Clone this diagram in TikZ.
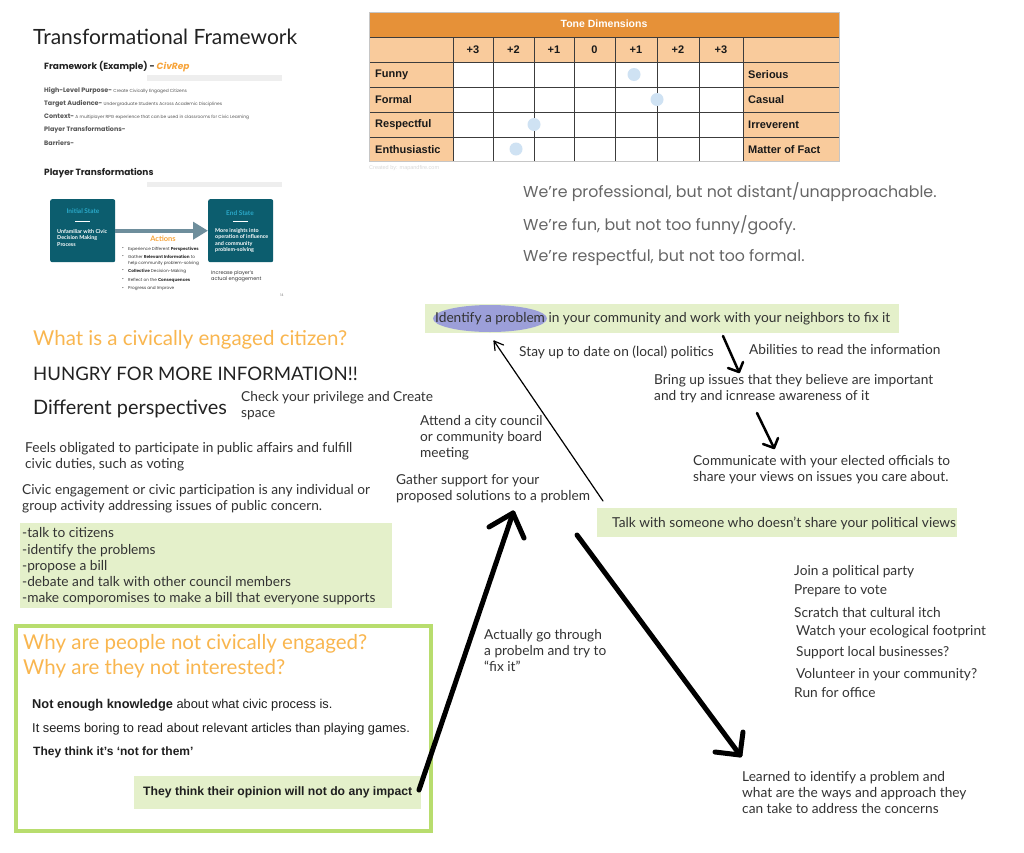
\documentclass[tikz,border=0pt]{standalone}
\usepackage{fontspec}
\setmainfont{Lato}
\newfontfamily\pop{Poppins}
\newfontfamily\ari{Liberation Sans}
\usetikzlibrary{calc,arrows.meta}
\definecolor{ttl}{HTML}{222222}
\definecolor{txt}{HTML}{333333}
\definecolor{qorange}{HTML}{F9B64F}
\definecolor{gfill}{HTML}{E4F0CA}
\definecolor{gline}{HTML}{B8DD6E}
\definecolor{lav}{HTML}{9C9FD9}
\definecolor{tealbg}{HTML}{0C5D6E}
\definecolor{tealtx}{HTML}{2AA9C9}
\definecolor{sarrow}{HTML}{6E8E9C}
\definecolor{civ}{HTML}{F7A43A}
\definecolor{sbar}{HTML}{EEEEEE}
\definecolor{sgray}{HTML}{555555}
\definecolor{tor}{HTML}{E69138}
\definecolor{tlight}{HTML}{F9CB9C}
\definecolor{tdot}{HTML}{CFE2F3}
\definecolor{tgrid}{HTML}{3C3C3C}
\definecolor{pgray}{HTML}{666666}
\newcommand\stiny{\pop\mdseries\fontsize{4.4}{5}\selectfont}
\tikzset{
  txtnode/.style={anchor=west, inner sep=0pt, align=left, text=txt},
  body/.style={txtnode, font=\fontsize{13.7}{16}\selectfont},
  bigq/.style={txtnode, text=qorange, font=\fontsize{20.5}{24.5}\selectfont},
  big/.style={txtnode, text=ttl, font=\fontsize{18.6}{22}\selectfont},
  slab/.style={txtnode, text=sgray, font=\pop\bfseries\fontsize{6.4}{7}\selectfont},
  sbul/.style={txtnode, text=txt, font=\pop\fontsize{4.2}{6}\selectfont},
  tealbox/.style={fill=tealbg, rounded corners=2pt, inner sep=0pt, anchor=north west},
  tcell/.style={inner sep=0pt, font=\ari\bfseries\fontsize{11}{13}\selectfont, text=black!90},
  heavy/.style={line width=5pt, line cap=round, line join=round},
  midarr/.style={line width=2.5pt, line cap=round, line join=round},
  thinarr/.style={line width=1.2pt, line cap=round, line join=round},
  gboxfill/.style={fill=gfill, inner sep=0pt, anchor=north west},
  roboto/.style={txtnode, text=black!88, font=\ari\fontsize{12.8}{14}\selectfont},
}
\begin{document}
\begin{tikzpicture}[x=1pt,y=-1pt]
\useasboundingbox (0,0) rectangle (1024,852);
\fill[white] (0,0) rectangle (1024,852);

% ---------- title ----------
\node[txtnode, text=ttl, font=\fontsize{21}{25}\selectfont] (title) at (33,37) {Transformational Framework};

% ---------- framework slide ----------
\node[txtnode, text=ttl, font=\pop\bfseries\fontsize{9}{10}\selectfont] (fw) at (44,67) {Framework (Example) - \textcolor{civ}{\itshape CivRep}};
\fill[sbar] (147,75) rectangle (282,81);
\node[slab] (hlp) at (44,91) {High-Level Purpose- {\stiny Create Civically Engaged Citizens}};
\node[slab] (tga) at (44,104) {Target Audience- {\stiny Undergraduate Students Across Academic Disciplines}};
\node[slab] (ctx) at (44,117) {Context- {\stiny A multiplayer RPG experience that can be used in classrooms for Civic Learning}};
\node[slab] (ptr) at (44,130) {Player Transformations-};
\node[slab] (bar) at (44,143) {Barriers-};
\node[txtnode, text=ttl, font=\pop\bfseries\fontsize{9}{10}\selectfont] (pth) at (44,173) {Player Transformations};
\fill[sbar] (147,182) rectangle (282,187);

\node[tealbox, minimum width=65pt, minimum height=63pt] (init) at (50,199) {};
\node[tealbox, minimum width=65pt, minimum height=63pt] (endst) at (208,199) {};
\draw[sarrow, line width=4pt, -{Triangle[length=15pt,width=17pt]}] (init.east) -- (endst.west);
\node[inner sep=0pt, text=tealtx, font=\bfseries\fontsize{6.5}{8}\selectfont] (initT) at (83,211) {Initial State};
\draw[white, line width=0.7pt] (75,221) -- (90,221);
\node[txtnode, text=white, font=\bfseries\fontsize{5.4}{6.5}\selectfont] (initB) at (57,238) {Unfamiliar with Civic\\Decision Making\\Process};
\node[inner sep=0pt, text=tealtx, font=\bfseries\fontsize{6.5}{8}\selectfont] (endT) at (240,213) {End State};
\draw[white, line width=0.7pt] (233,221) -- (248,221);
\node[txtnode, text=white, font=\bfseries\fontsize{5.4}{6.4}\selectfont] (endB) at (215,240.5) {More insights into\\operation of influence\\and community\\problem-solving};
\node[inner sep=0pt, text=civ, font=\bfseries\fontsize{7.5}{8}\selectfont] (act) at (163,239) {Actions};
\foreach \yy [count=\i] in {249,257,271,280,289} \node[sbul] (bu\i) at (122,\yy) {\textbullet};
\node[sbul] (b1) at (128,249) {Experience Different \textbf{Perspectives}};
\node[sbul] (b2) at (128,260) {Gather \textbf{Relevant Information} to\\help community problem-solving};
\node[sbul] (b3) at (128,271) {\textbf{Collective} Decision-Making};
\node[sbul] (b4) at (128,280) {Reflect on the \textbf{Consequences}};
\node[sbul] (b5) at (128,289) {Progress and Improve};
\node[txtnode, font=\pop\fontsize{5}{6}\selectfont] (incr) at (211,276) {Increase player’s\\actual engagement};
\node[inner sep=0pt, text=gray, font=\pop\fontsize{3.5}{4}\selectfont] (pg) at (282,295) {14};

% ---------- tone table ----------
\fill[tor] (369,12) rectangle (839,37);
\fill[tlight] (369,37) rectangle (839,62);
\fill[tlight] (369,62) rectangle (453,161);
\fill[tlight] (743,62) rectangle (839,161);
\foreach \yy in {37,62,87,112,137} \draw[tgrid, line width=0.8pt] (369,\yy) -- (839,\yy);
\foreach \xx in {453,493,534,574,615,657,699,743} \draw[tgrid, line width=0.8pt] (\xx,37) -- (\xx,161);
\draw[gray!45, line width=0.8pt] (369,12) rectangle (839,161);
\node[tcell, text=white, font=\ari\bfseries\fontsize{10.5}{12}\selectfont] (tone) at (604,23.5) {Tone Dimensions};
\foreach \lab/\cx [count=\i] in {+3/473,+2/513.5,+1/554,0/594.5,+1/636,+2/678,+3/721}
  \node[tcell] (num\i) at (\cx,49.5) {\lab};
\foreach \l/\r/\yy [count=\i] in {Funny/Serious/74.5,Formal/Casual/99.5,Respectful/Irreverent/124.5,Enthusiastic/Matter of Fact/149.5}{
  \node[tcell, anchor=west] (tl\i) at (375,\yy) {\l};
  \node[tcell, anchor=west] (tr\i) at (748,\yy) {\r};
}
\fill[tdot] (634,74.5) circle[radius=6.5];
\fill[tdot] (657,99.5) circle[radius=6.5];
\fill[tdot] (534,124.5) circle[radius=6.5];
\fill[tdot] (516,149) circle[radius=6.5];
\node[txtnode, text=gray!30, font=\ari\fontsize{5.5}{6}\selectfont] (cred) at (369,168) {Created by: mapandfire.com};

% ---------- tone statements ----------
\node[txtnode, text=pgray, font=\pop\fontsize{15.8}{18}\selectfont] (we1) at (523,192) {We’re professional, but not distant/unapproachable.};
\node[txtnode, text=pgray, font=\pop\fontsize{15.8}{18}\selectfont] (we2) at (523,225) {We’re fun, but not too funny/goofy.};
\node[txtnode, text=pgray, font=\pop\fontsize{15.8}{18}\selectfont] (we3) at (523,258) {We’re respectful, but not too formal.};

% ---------- left column ----------
\node[bigq] (q1) at (33,340) {What is a civically engaged citizen?};
\node[big] (hungry) at (33,374) {HUNGRY FOR MORE INFORMATION!!};
\node[big, font=\fontsize{19.9}{22}\selectfont] (diff) at (33,409) {Different perspectives};
\node[body] (check) at (241,406) {Check your privilege and Create\\space};
\node[body] (feels) at (25,457) {Feels obligated to participate in public affairs and fulfill\\civic duties, such as voting};
\node[body] (civic) at (22,499) {Civic engagement or civic participation is any individual or\\group activity addressing issues of public concern.};
\node[gboxfill, minimum width=372pt, minimum height=85pt] (council) at (20,523) {};
\node[body, font=\fontsize{13.7}{16.25}\selectfont] (steps) at (22,566.5) {-talk to citizens\\-identify the problems\\-propose a bill\\-debate and talk with other council members\\-make comporomises to make a bill that everyone supports};

% ---------- why box ----------
\draw[gline, line width=3.5pt] (15.8,625.8) rectangle (431.2,831.2);
\node[bigq] (q2) at (23,656) {Why are people not civically engaged?\\Why are they not interested?};
\node[roboto] (know) at (32,705) {\textbf{Not enough knowledge} about what civic process is.};
\node[roboto] (boring) at (32,729) {It seems boring to read about relevant articles than playing games.};
\node[roboto, font=\ari\bfseries\fontsize{12}{14}\selectfont] (notfor) at (33,752) {They think it’s ‘not for them’};
\node[gboxfill, minimum width=287pt, minimum height=33pt] (impactbox) at (134,776) {};
\node[roboto, font=\ari\bfseries\fontsize{12.2}{14}\selectfont] (impact) at (143,792) {They think their opinion will not do any impact};

% ---------- centre ----------
\node[gboxfill, minimum width=474pt, minimum height=29pt] (identbox) at (425,304) {};
\fill[lav] (490,318.5) ellipse[x radius=57, y radius=13.5];
\node[body] (ident) at (435,319) {Identify a problem in your community and work with your neighbors to fix it};
\node[body] (stay) at (519,352) {Stay up to date on (local) politics};
\node[body] (abil) at (749,350) {Abilities to read the information};
\node[body] (bring) at (654,389) {Bring up issues that they believe are important\\and try and icnrease awareness of it};
\node[body] (comm) at (693,470) {Communicate with your elected officials to\\share your views on issues you care about.};
\node[body] (attend) at (420,438) {Attend a city council\\or community board\\meeting};
\node[body] (gather) at (396,489) {Gather support for your\\proposed solutions to a problem};
\node[gboxfill, minimum width=360pt, minimum height=29pt] (talkbox) at (597,508) {};
\node[body] (talk) at (612,523) {Talk with someone who doesn’t share your political views};
\node[body] (actually) at (484,650) {Actually go through\\a probelm and try to\\“fix it”};
\node[body] (join) at (794,572) {Join a political party};
\node[body] (prep) at (794,591) {Prepare to vote};
\node[body] (scratch) at (794,612) {Scratch that cultural itch};
\node[body] (watch) at (796,632) {Watch your ecological footprint};
\node[body] (support) at (796,653) {Support local businesses?};
\node[body] (volun) at (796,675) {Volunteer in your community?};
\node[body] (run) at (794,693) {Run for office};
\node[body] (learned) at (742,792) {Learned to identify a problem and\\what are the ways and approach they\\can take to address the concerns};

% ---------- connectors ----------
\coordinate (thinS) at (603,501);
\coordinate (thinT) at (494,341);
\draw[thinarr] (thinS) -- (thinT);
\draw[thinarr] ($(thinT)+(9.5,4)$) -- (thinT) -- ($(thinT)+(1,9.5)$);

\coordinate (a1S) at (723,336);
\coordinate (a1T) at (739,372);
\draw[midarr] (a1S) -- (a1T);
\draw[midarr] ($(a1T)+(-11,-4)$) -- (a1T) -- ($(a1T)+(4,-10)$);
\coordinate (a2S) at (757,413);
\coordinate (a2T) at (774,448);
\draw[midarr] (a2S) -- (a2T);
\draw[midarr] ($(a2T)+(-11,-4)$) -- (a2T) -- ($(a2T)+(4,-10)$);

\coordinate (bigAS) at (419,790);
\coordinate (bigAT) at (513,513);
\draw[heavy] (bigAS) -- (bigAT);
\draw[heavy] ($(bigAT)+(-24,14)$) -- (bigAT) -- ($(bigAT)+(11,25)$);

\coordinate (bigBS) at (577,535);
\coordinate (bigBT) at (740,755);
\draw[heavy] (bigBS) -- (bigBT);
\draw[heavy] ($(bigBT)+(-25,-3)$) -- (bigBT) -- ($(bigBT)+(3,-23)$);
\end{tikzpicture}
\end{document}
